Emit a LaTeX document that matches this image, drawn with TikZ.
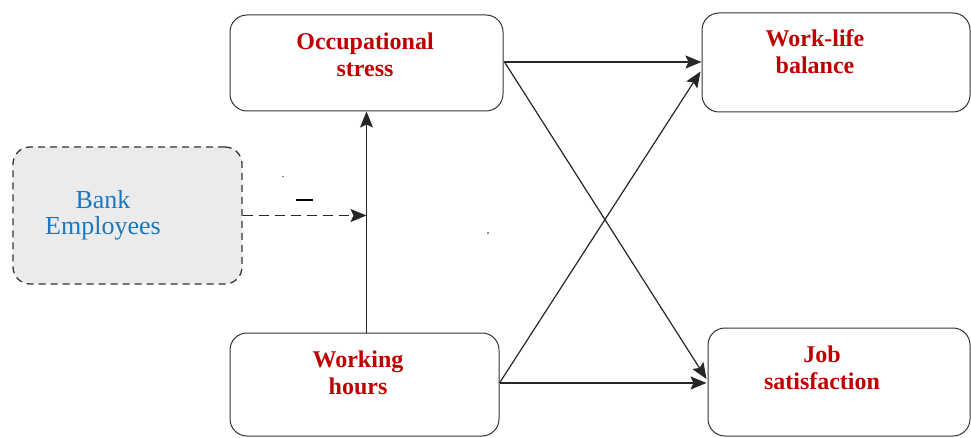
\documentclass[tikz,border=0pt]{standalone}
\usepackage{fontspec}
\setmainfont{Liberation Serif}[BoldFont={Liberation Serif Bold}]
\usetikzlibrary{arrows.meta,calc}
\definecolor{redtxt}{HTML}{C00000}
\definecolor{bluetxt}{HTML}{1A78C2}
\definecolor{boxgray}{HTML}{EBEBEB}
\begin{document}
\begin{tikzpicture}[x=1pt,y=-1pt,
  box/.style={draw=black!80, line width=1pt, rounded corners=17pt, inner sep=0pt},
  redlbl/.style={text=redtxt, font=\bfseries\fontsize{24}{27}\selectfont, align=center, inner sep=0pt},
  bluelbl/.style={text=bluetxt, font=\fontsize{26}{26}\selectfont, align=center, inner sep=0pt},
  arr/.style={draw=black!85, line width=1.2pt, -{Stealth[length=16pt,width=13pt,inset=3pt]}},
  harr/.style={arr, line width=1.8pt}
]
\useasboundingbox (0,0) rectangle (971,438);
% boxes
\node[box, minimum width=273pt, minimum height=96pt] (os) at (366.5,63) {};
\node[box, minimum width=268pt, minimum height=99pt] (wl) at (836,62.5) {};
\node[box, line width=1.3pt, dash pattern=on 7pt off 5pt, fill=boxgray, minimum width=229pt, minimum height=137pt] (be) at (127.5,215.5) {};
\node[box, minimum width=269pt, minimum height=103pt] (wh) at (364.5,384.5) {};
\node[box, minimum width=262pt, minimum height=108pt] (js) at (839,382) {};
% labels
\node[redlbl] (ost) at (365,55) {Occupational\\stress};
\node[redlbl] (wlt) at (815,52) {Work-life\\balance};
\node[bluelbl] (bet) at (103,215) {Bank\\Employees};
\node[redlbl] (wht) at (358,373) {Working\\hours};
\node[redlbl] (jst) at (822,368) {Job\\satisfaction};
% small marks
\node[inner sep=0pt, font=\fontsize{10}{10}\selectfont] (m1) at (283,177) {.};
\node[inner sep=0pt, font=\fontsize{10}{10}\selectfont] (m2) at (488,234) {,};
\coordinate (d1) at (296,200);
\coordinate (d2) at (313,200);
\draw[line width=1.4pt] (d1) -- (d2);
% connectors
\draw[arr] (os.south |- wh.north) -- (os.south);
\coordinate (vj) at (be.east -| os.south);
\draw[arr, line width=1.3pt, dash pattern=on 10pt off 6pt] (be.east) -- (vj);
\draw[harr] ($(os.east)+(0,-1)$) -- ($(wl.west)+(0,-0.5)$);
\draw[arr] ($(os.east)+(1,-1)$) -- ($(js.west)+(-1,-3)$);
\draw[arr] ($(wh.east)+(0,-1.5)$) -- ($(wl.west)+(-1,9)$);
\draw[harr] ($(wh.east)+(0,-1.5)$) -- ($(js.west)+(-1,1)$);
\end{tikzpicture}
\end{document}
